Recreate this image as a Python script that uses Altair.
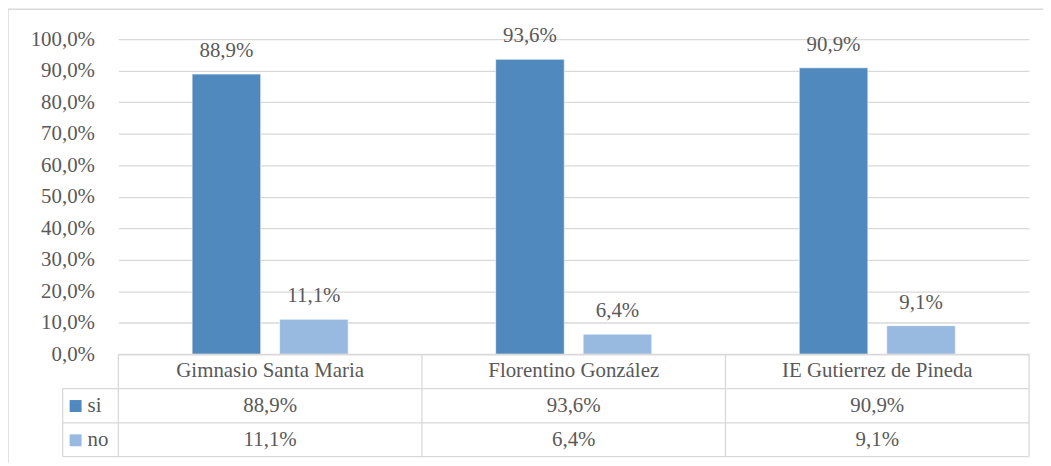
import altair as alt
import pandas as pd

categories = ["Gimnasio Santa Maria", "Florentino González", "IE Gutierrez de Pineda"]
series = ["si", "no"]
si_values = [88.9, 93.6, 90.9]
no_values = [11.1, 6.4, 9.1]
colors = ["#4f89bd", "#99bae0"]
y_ticks = [0, 10, 20, 30, 40, 50, 60, 70, 80, 90, 100]

rows = []
for c, s, n in zip(categories, si_values, no_values):
    rows.append({"cat": c, "serie": "si", "val": s})
    rows.append({"cat": c, "serie": "no", "val": n})
df = pd.DataFrame(rows)
df["label"] = df["val"].map(lambda v: f"{v:.1f}".replace(".", ",") + "%")
cat_df = pd.DataFrame({"cat": categories})

W, H = 916, 317
FONT = "Liberation Serif"
GRAY = "#595959"
LINE = "#d9d9d9"
FS = 21

x_enc = alt.X("cat:N", sort=categories,
              scale=alt.Scale(paddingInner=0, paddingOuter=0), axis=None)
xo_enc = alt.XOffset("serie:N", sort=series,
                     scale=alt.Scale(paddingInner=0.216, paddingOuter=0.843))
color_enc = alt.Color("serie:N", sort=series,
                      scale=alt.Scale(domain=series, range=colors), legend=None)
y_enc = alt.Y("val:Q", scale=alt.Scale(domain=[0, 100], nice=False),
              axis=alt.Axis(values=y_ticks, tickCount=11, grid=True, gridColor=LINE,
                            gridWidth=1.3, domain=False, ticks=False, title=None,
                            labelOverlap=False,
                            labelExpr="replace(format(datum.value, '.1f'), '.', ',') + '%'",
                            labelFont=FONT, labelFontSize=FS, labelColor=GRAY,
                            labelPadding=24))

base = alt.Chart(df)

bars = base.mark_bar(stroke="white", strokeWidth=0.6).encode(
    x=x_enc, xOffset=xo_enc, y=y_enc, color=color_enc)

labels = base.mark_text(font=FONT, fontSize=FS, color=GRAY, dy=-17,
                        baseline="alphabetic").encode(
    x=x_enc, xOffset=xo_enc, y=y_enc, text="label:N")

header = alt.Chart(cat_df).mark_text(font=FONT, fontSize=FS, color=GRAY,
                                     baseline="middle").encode(
    x=x_enc, y=alt.value(H + 17), text="cat:N")

row_y = {"si": H + 52, "no": H + 86.5}
row_layers = []
for i, s in enumerate(series):
    row_layers.append(
        base.transform_filter(alt.datum.serie == s).mark_text(
            font=FONT, fontSize=FS, color=GRAY, baseline="middle").encode(
            x=x_enc, y=alt.value(row_y[s]), text="label:N"))
    one = alt.Chart(pd.DataFrame({"serie": [s]}))
    row_layers.append(one.mark_rect(color=colors[i]).encode(
        x=alt.value(-49), x2=alt.value(-37),
        y=alt.value(row_y[s] - 6), y2=alt.value(row_y[s] + 6)))
    row_layers.append(one.mark_text(font=FONT, fontSize=FS, color=GRAY,
                                    align="left", baseline="middle").encode(
        x=alt.value(-31), y=alt.value(row_y[s]), text="serie:N"))

blank = alt.Chart(pd.DataFrame({"k": [0]}))


def hline(x1, x2, y):
    return blank.mark_rule(color=LINE, strokeWidth=1.3).encode(
        x=alt.value(x1), x2=alt.value(x2), y=alt.value(y))


def vline(x, y1, y2):
    return blank.mark_rule(color=LINE, strokeWidth=1.3).encode(
        x=alt.value(x), y=alt.value(y1), y2=alt.value(y2))


cw = W / 3
table_lines = [
    hline(0, W, H),
    hline(-56, W, H + 34.5),
    hline(-56, W, H + 69),
    hline(-56, W, H + 103),
    vline(-56, H + 34.5, H + 103),
    vline(0, H, H + 103),
    vline(cw, H, H + 103),
    vline(2 * cw, H, H + 103),
    vline(W, H, H + 103),
]

border = blank.mark_rect(fill="transparent", stroke=LINE, strokeWidth=1.5).encode(
    x=alt.value(-111), x2=alt.value(W + 60), y=alt.value(-30), y2=alt.value(H + 160))

chart = alt.layer(
    border, bars, labels, header, *table_lines, *row_layers
).properties(
    width=W, height=H,
    autosize=alt.AutoSizeParams(type="none"),
    padding={"left": 111, "top": 30, "right": 14, "bottom": 108},
    background="white",
).configure_view(strokeWidth=0, stroke="transparent")

chart.save("out.html", embed_options={"renderer": "svg", "actions": False})
